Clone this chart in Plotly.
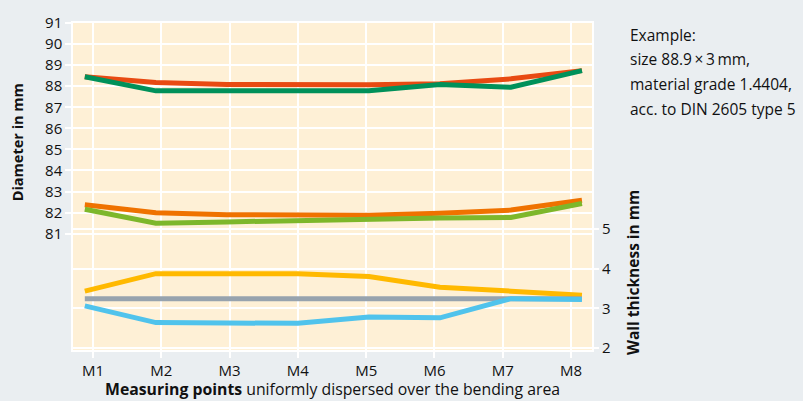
import plotly.graph_objects as go

# Measuring points and where they sit along the bending area (x-axis units, tick Mk at k)
point_labels = ["M1", "M2", "M3", "M4", "M5", "M6", "M7", "M8"]
tick_pos = [1, 2, 3, 4, 5, 6, 7, 8]
point_pos = [0.88, 1.92, 2.96, 4.0, 5.04, 6.08, 7.12, 8.16]

# Diameter in mm (left axis)
dia_red = [88.45, 88.18, 88.08, 88.07, 88.07, 88.12, 88.35, 88.74]
dia_green = [88.45, 87.78, 87.78, 87.78, 87.78, 88.08, 87.95, 88.74]
dia_orange = [82.37, 82.0, 81.9, 81.88, 81.88, 81.97, 82.12, 82.59]
dia_lightgreen = [82.16, 81.5, 81.56, 81.64, 81.71, 81.75, 81.77, 82.43]

# Wall thickness in mm (right axis)
wall_yellow = [3.43, 3.87, 3.87, 3.87, 3.8, 3.53, 3.43, 3.33]
wall_grey = [3.24, 3.24, 3.24, 3.24, 3.24, 3.24, 3.24, 3.24]
wall_blue = [3.06, 2.64, 2.63, 2.62, 2.78, 2.76, 3.24, 3.22]

left_ticks = [81, 82, 83, 84, 85, 86, 87, 88, 89, 90, 91]
right_ticks = [2, 3, 4, 5]

example_lines = [
    "Example:",
    "size 88.9\u2009\u00d7\u20093\u2009mm,",
    "material grade 1.4404,",
    "acc. to DIN 2605 type 5",
]

FONT = "Open Sans"
BG = "#EAEEF1"
PLOT_BG = "#FEF0D6"

fig = go.Figure()

def add(y, color, axis):
    fig.add_trace(go.Scatter(
        x=point_pos, y=y, mode="lines", yaxis=axis,
        line=dict(color=color, width=5), hoverinfo="skip", showlegend=False))

add(dia_red, "#E84A12", "y")
add(dia_green, "#00915A", "y")
add(dia_orange, "#EF7200", "y")
add(dia_lightgreen, "#7DB72B", "y")
add(wall_yellow, "#FFB900", "y2")
add(wall_grey, "#97A3AE", "y2")
add(wall_blue, "#50C3EC", "y2")

axis_common = dict(
    showgrid=True, gridcolor="white", gridwidth=1.5,
    ticks="outside", ticklen=6, tickcolor="white", tickwidth=1.5,
    zeroline=False, tickfont=dict(size=15),
)

fig.update_layout(
    width=803, height=401,
    margin=dict(l=73, r=211, t=21, b=51),
    paper_bgcolor=BG, plot_bgcolor=PLOT_BG,
    font=dict(family=FONT, size=15, color="#111111"),
    xaxis=dict(range=[0.707, 8.307], tickvals=tick_pos, ticktext=point_labels,
               showline=True, linecolor="white", linewidth=1.5, mirror=True,
               **axis_common),
    yaxis=dict(range=[75.48, 91.0], tickvals=left_ticks,
               showline=True, linecolor="white", linewidth=1.5, mirror=True,
               **axis_common),
    yaxis2=dict(range=[1.95, 10.175], tickvals=right_ticks, overlaying="y", side="right",
                **axis_common),
)

fig.add_annotation(
    xref="paper", yref="paper", x=-0.108, y=0.635, xanchor="center", yanchor="middle",
    text="<b>Diameter in mm</b>", textangle=-90, showarrow=False, font=dict(size=14.5))
fig.add_annotation(
    xref="paper", yref="paper", x=1.078, y=0.237, xanchor="center", yanchor="middle",
    text="<b>Wall thickness in mm</b>", textangle=-90, showarrow=False, font=dict(size=15.5))
fig.add_annotation(
    xref="paper", yref="paper", x=0.5, y=-0.119, xanchor="center", yanchor="middle",
    text="<b>Measuring points</b> uniformly dispersed over the bending area",
    showarrow=False, font=dict(size=15.8))

# Example text, one annotation per line (line pitch ~24.7 px)
for i, line in enumerate(example_lines):
    y_px = 33 + 24.7 * i
    fig.add_annotation(
        xref="paper", yref="paper", x=1.07, y=(350 - y_px) / 329,
        xanchor="left", yanchor="middle", text=line, align="left",
        showarrow=False, font=dict(size=15.5))

fig.write_html(
    "out.html",
    config={"displayModeBar": False},
    post_script="document.body.style.margin='0';document.body.style.background='#EAEEF1';",
)
